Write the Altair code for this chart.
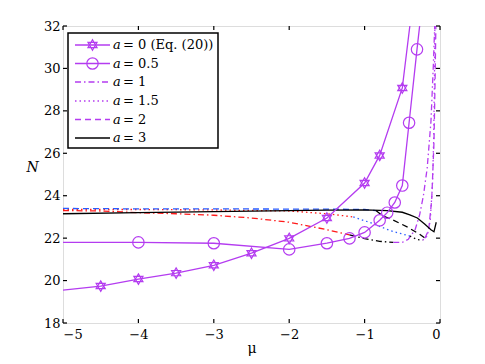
import altair as alt
import pandas as pd

PURPLE = "#b43cf0"
RED = "#ff1a1a"
BLUE = "#2a5cff"
BLACK = "#000000"
FONT = "DejaVu Serif"

XTICKS = [-5, -4, -3, -2, -1, 0]
YTICKS = [18, 20, 22, 24, 26, 28, 30, 32]

# a = 0 (Eq. (20))  -- stars
A0_MU = [-5, -4.5, -4, -3.5, -3, -2.5, -2, -1.5, -1, -0.8, -0.5, -0.4]
A0_N = [19.55, 19.74, 20.07, 20.35, 20.72, 21.29, 21.99, 22.95, 24.6, 25.9, 29.08, 32.0]
A0_MARK = [0, 1, 1, 1, 1, 1, 1, 1, 1, 1, 1, 0]

# a = 0.5 -- circles
A05_MU = [-5, -4, -3, -2, -1.5, -1.2, -1, -0.8, -0.7, -0.6, -0.5, -0.41, -0.305, -0.27]
A05_N = [21.8, 21.8, 21.76, 21.47, 21.76, 21.99, 22.27, 22.84, 23.2, 23.68, 24.48, 27.44, 30.9, 32.0]
A05_MARK = [0, 1, 1, 1, 1, 1, 1, 1, 1, 1, 1, 1, 1, 0]

# a = 1 -- dash-dot (segment colour of the piece starting at each point)
A1_MU = [-5, -4.5, -4, -3.5, -3, -2.5, -2, -1.5, -1.2, -1, -0.8, -0.62, -0.5, -0.42, -0.33, -0.27, -0.22, -0.17, -0.12, -0.09, -0.07]
A1_N = [23.3, 23.28, 23.2, 23.15, 23.08, 22.95, 22.75, 22.4, 22.15, 21.98, 21.85, 21.8, 21.8, 21.95, 22.4, 23.1, 24.0, 25.3, 27.5, 30.0, 32.0]
A1_SEG = ["r"] * 8 + ["k"] * 3 + ["p"] * 10

# a = 1.5 -- dotted
A15_MU = [-5, -4, -3, -2, -1.5, -1.15, -0.9, -0.66, -0.4, -0.3, -0.23, -0.17, -0.13, -0.1, -0.085, -0.075, -0.068]
A15_N = [23.35, 23.35, 23.33, 23.28, 23.15, 23.0, 22.7, 22.35, 22.1, 21.93, 21.9, 22.1, 22.8, 24.5, 26.5, 29.0, 32.0]
A15_SEG = ["r"] * 5 + ["b"] * 3 + ["k"] * 2 + ["p"] * 7

# a = 2 -- dashed
A2_MU = [-5, -4, -3, -2, -1.5, -1, -0.85, -0.76, -0.62, -0.42, -0.27, -0.2, -0.15, -0.11, -0.08, -0.065, -0.055]
A2_N = [23.4, 23.38, 23.38, 23.37, 23.37, 23.35, 23.3, 23.05, 22.85, 22.5, 22.18, 22.0, 22.4, 23.8, 26.5, 29.5, 32.0]
A2_SEG = ["b"] * 6 + ["k"] * 5 + ["p"] * 6

# a = 3 -- solid black
A3_MU = [-5, -4, -3, -2, -1.5, -1, -0.7, -0.5, -0.4, -0.3, -0.2, -0.12, -0.08, -0.05]
A3_N = [23.15, 23.2, 23.25, 23.3, 23.32, 23.33, 23.3, 23.22, 23.1, 22.95, 22.65, 22.4, 22.3, 22.75]
A3_SEG = ["k"] * 14

LEGEND_LABELS = ["= 0 (Eq. (20))", "= 0.5", "= 1", "= 1.5", "= 2", "= 3"]

COLS = {"r": RED, "b": BLUE, "k": BLACK, "p": PURPLE}
STAR = "M0,-1L0.866,0.5L-0.866,0.5Z M0,1L0.866,-0.5L-0.866,-0.5Z"

W, H = 377, 297
FS = 13


def xenc():
    return alt.X("mu:Q", scale=alt.Scale(domain=[-5, 0], nice=False, zero=False),
                 axis=alt.Axis(values=XTICKS, title="μ", tickSize=0, domain=False, grid=False,
                               labelPadding=5, labelFont=FONT, labelFontSize=FS, labelColor="black",
                               titleFont=FONT, titleFontSize=14, titleFontWeight="normal",
                               titleColor="black", titleY=29, titleBaseline="alphabetic"))


def yenc():
    return alt.Y("N:Q", scale=alt.Scale(domain=[18, 32], nice=False, zero=False),
                 axis=alt.Axis(values=YTICKS, title="N", tickSize=0, domain=False, grid=False,
                               labelPadding=3, labelFont=FONT, labelFontSize=FS, labelColor="black",
                               titleFont=FONT, titleFontSize=14, titleFontWeight="normal",
                               titleFontStyle="italic", titleColor="black", titleAngle=0,
                               titleX=-31, titleY=141, titleAlign="center", titleBaseline="middle"))


def seg_frame(mu, n, seg):
    rows = []
    gid = 0
    for i in range(len(mu)):
        if i > 0 and seg[i] != seg[i - 1]:
            rows.append({"mu": mu[i], "N": n[i], "g": gid, "col": COLS[seg[i - 1]], "o": i})
            gid += 1
        rows.append({"mu": mu[i], "N": n[i], "g": gid, "col": COLS[seg[i]], "o": i})
    return pd.DataFrame(rows)


def seg_line(mu, n, seg, dash):
    kw = dict(clip=True, strokeWidth=1.3)
    if dash:
        kw["strokeDash"] = dash
    return alt.Chart(seg_frame(mu, n, seg)).mark_line(**kw).encode(
        x=xenc(), y=yenc(), color=alt.Color("col:N", scale=None, legend=None),
        detail="g:N", order="o:Q")


layers = []
layers.append(seg_line(A1_MU, A1_N, A1_SEG, [6, 3, 1.5, 3]))
layers.append(seg_line(A15_MU, A15_N, A15_SEG, [1.5, 3]))
layers.append(seg_line(A2_MU, A2_N, A2_SEG, [6, 4]))
layers.append(seg_line(A3_MU, A3_N, A3_SEG, None))

df0 = pd.DataFrame({"mu": A0_MU, "N": A0_N, "m": A0_MARK})
df05 = pd.DataFrame({"mu": A05_MU, "N": A05_N, "m": A05_MARK})
for df, shape, size in [(df0, STAR, 110), (df05, "circle", 130)]:
    base = alt.Chart(df)
    layers.append(base.mark_line(clip=True, color=PURPLE, strokeWidth=1.3).encode(x=xenc(), y=yenc()))
    layers.append(base.transform_filter("datum.m == 1").mark_point(
        shape=shape, size=size, color=PURPLE, filled=False, strokeWidth=1.2, opacity=1).encode(
        x=xenc(), y=yenc()))

# inward tick marks on all four sides
tx = pd.DataFrame({"mu": XTICKS})
ty = pd.DataFrame({"N": YTICKS})
dx = 4 * 5 / W
dy = 4 * 14 / H
layers.append(alt.Chart(tx).transform_calculate(N="18", N2=f"18+{dy}").mark_rule(color="black", strokeWidth=1.2).encode(
    x=xenc(), y=yenc(), y2="N2:Q"))
layers.append(alt.Chart(tx).transform_calculate(N="32", N2=f"32-{dy}").mark_rule(color="black", strokeWidth=1.2).encode(
    x=xenc(), y=yenc(), y2="N2:Q"))
layers.append(alt.Chart(ty).transform_calculate(mu="-5", mu2=f"-5+{dx}").mark_rule(color="black", strokeWidth=1.2).encode(
    x=xenc(), x2="mu2:Q", y=yenc()))
layers.append(alt.Chart(ty).transform_calculate(mu="0", mu2=f"-{dx}").mark_rule(color="black", strokeWidth=1.2).encode(
    x=xenc(), x2="mu2:Q", y=yenc()))

# legend box
dummy = alt.Data(values=[{}])
layers.append(alt.Chart(dummy).mark_rect(fill="white", stroke="black", strokeWidth=1.5).encode(
    x=alt.value(5), x2=alt.value(155), y=alt.value(7), y2=alt.value(122)))
row_y = [19, 37.5, 56, 75, 93.5, 112]
styles = [
    (PURPLE, None, STAR, 110),
    (PURPLE, None, "circle", 130),
    (PURPLE, [6, 3, 1.5, 3], None, 0),
    (PURPLE, [1.5, 3], None, 0),
    (PURPLE, [6, 4], None, 0),
    (BLACK, None, None, 0),
]
for yy, lab, (col, dash, shape, size) in zip(row_y, LEGEND_LABELS, styles):
    kw = dict(color=col, strokeWidth=1.3)
    if dash:
        kw["strokeDash"] = dash
    layers.append(alt.Chart(dummy).mark_rule(**kw).encode(
        x=alt.value(12), x2=alt.value(47), y=alt.value(yy)))
    if shape:
        layers.append(alt.Chart(dummy).mark_point(shape=shape, size=size, color=col, filled=False,
                                                  strokeWidth=1.2, opacity=1).encode(
            x=alt.value(29.5), y=alt.value(yy)))
    layers.append(alt.Chart(dummy).mark_text(text="a", font=FONT, fontSize=FS, fontStyle="italic",
                                             align="left", baseline="middle", color="black").encode(
        x=alt.value(50), y=alt.value(yy)))
    layers.append(alt.Chart(dummy).mark_text(text=lab, font=FONT, fontSize=FS,
                                             align="left", baseline="middle", color="black").encode(
        x=alt.value(60), y=alt.value(yy)))

chart = alt.layer(*layers).properties(
    width=W, height=H,
    autosize=alt.AutoSizeParams(type="none"),
    padding={"left": 55, "top": 18, "right": 37, "bottom": 33},
).configure_view(stroke="black", strokeWidth=1.6).configure(background="white")

chart.save("out.html", embed_options={"renderer": "svg", "actions": False})
